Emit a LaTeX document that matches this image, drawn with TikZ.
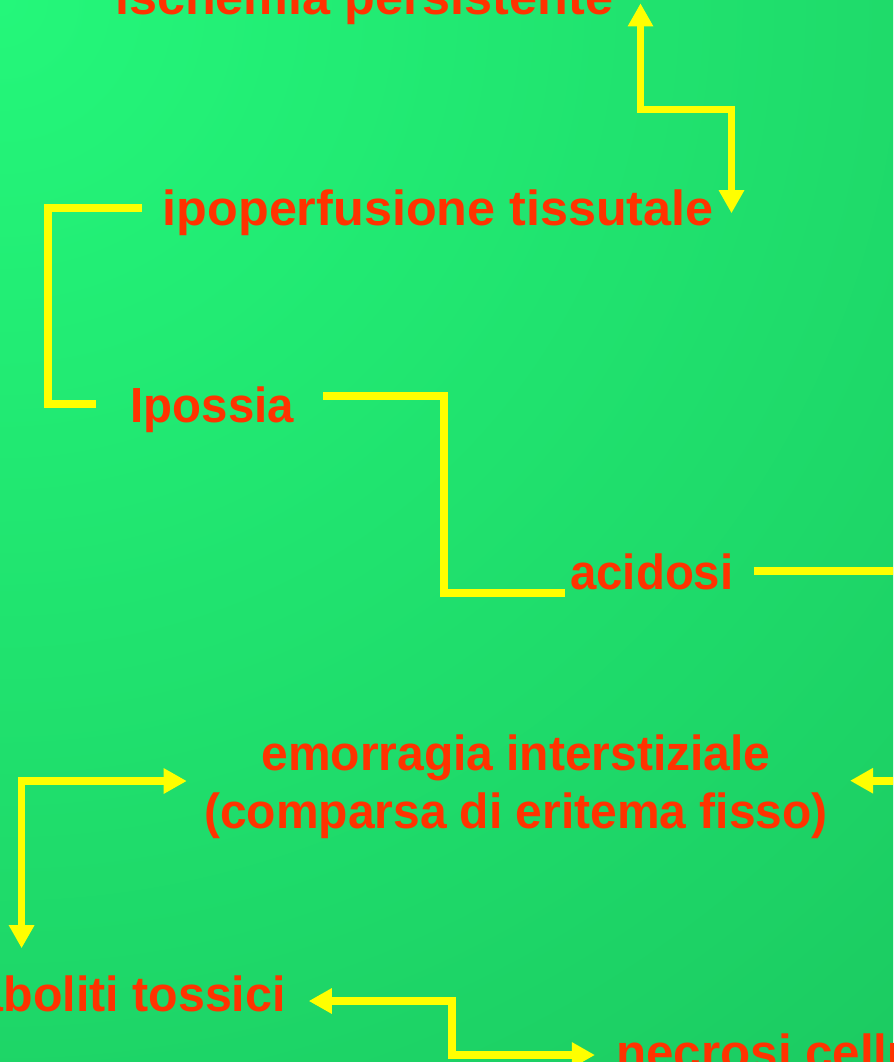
\documentclass[tikz,border=0pt]{standalone}
\usepackage{fontspec}
\setmainfont{Liberation Sans}
\usetikzlibrary{arrows.meta}
\definecolor{bglight}{RGB}{36,247,122}
\definecolor{bgdark}{RGB}{25,190,90}
\definecolor{stagered}{RGB}{255,51,0}
\definecolor{linkyellow}{RGB}{255,255,0}
\tikzset{
  stage/.style={inner sep=0pt, text=stagered,
    font=\fontsize{37}{43.5}\selectfont\bfseries},
  link/.style={draw=linkyellow, line width=5.8pt,
    >={Triangle[length=17.3pt,width=18pt]}},
}
\begin{document}
\begin{tikzpicture}[x=0.75pt,y=-0.75pt]
\useasboundingbox (0,0) rectangle (893,1062);
\clip (0,0) rectangle (893,1062);
% background glow from the upper left corner
\fill[bgdark] (0,0) rectangle (893,1062);
\shade[inner color=bglight, outer color=bgdark] (0,0) circle (1800);

% stages of the cascade
\node[stage, xscale=1.02, anchor=base west] (isch) at (115,15) {ischemia persistente};
\node[stage, xscale=1.02, anchor=base west] (ipo) at (162.5,226) {ipoperfusione tissutale};
\node[stage, xscale=0.96, anchor=base west] (ipox) at (130.5,422.5) {Ipossia};
\node[stage, xscale=0.96, anchor=base west] (acid) at (570,589) {acidosi};
\node[stage, xscale=0.972, anchor=base] (emo) at (516,770)
  {\begin{tabular}[t]{@{}c@{}}emorragia interstiziale\\(comparsa di eritema fisso)\end{tabular}};
\node[stage, xscale=0.98, anchor=base east] (cata) at (286,1011.7) {cataboliti tossici};
\node[stage, anchor=base west] (necr) at (616,1069) {necrosi cellulare};

% connector ends
\coordinate (ischIn) at (640.5,3.3);
\coordinate (ipoIn) at (731.5,213.3);
\coordinate (ipoOut) at (141.7,208);
\coordinate (ipoxIn) at (96,404);
\coordinate (ipoxOut) at (323.4,396);
\coordinate (acidIn) at (564.7,593);
\coordinate (acidOut) at (753.9,571);
\coordinate (acidRun) at (900,571);
\coordinate (emoFeed) at (900,780.7);
\coordinate (emoInR) at (850,780.7);
\coordinate (emoInL) at (186.8,781);
\coordinate (cataDrop) at (21.6,948.3);
\coordinate (cataIn) at (308.7,1001);
\coordinate (necrIn) at (595,1055);

% connectors
\draw[link,<->] (ischIn) -- (640.5,109.5) -| (ipoIn);
\draw[link] (ipoOut) -| (48.3,404) -- (ipoxIn);
\draw[link] (ipoxOut) -| (444,593) -- (acidIn);
\draw[link] (acidOut) -- (acidRun);
\draw[link,->] (emoFeed) -- (emoInR);
\draw[link,<->] (emoInL) -| (cataDrop);
\draw[link,<->] (cataIn) -| (452,1055) -- (necrIn);
\end{tikzpicture}
\end{document}
